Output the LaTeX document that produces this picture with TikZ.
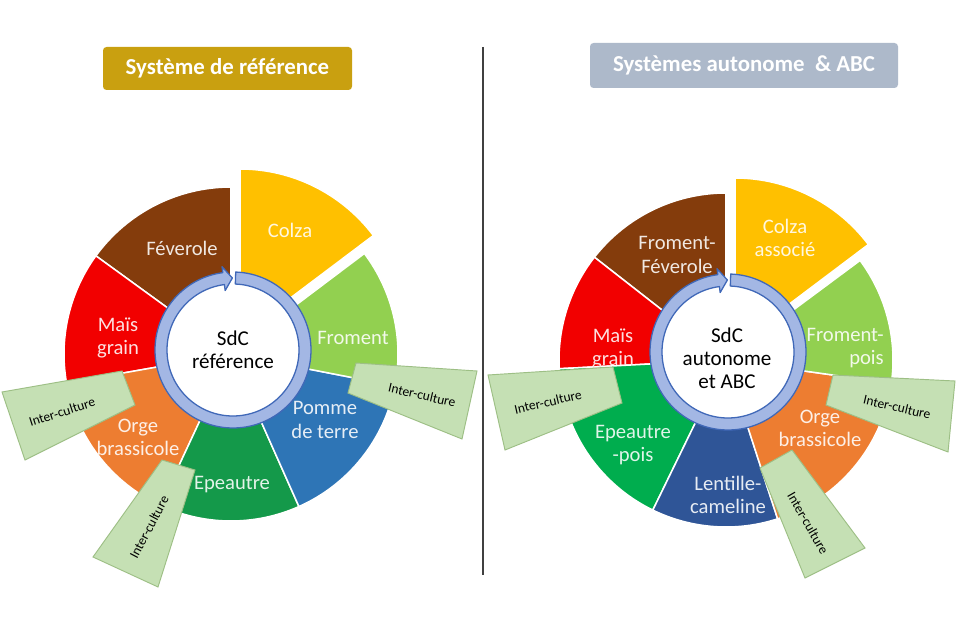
\documentclass[tikz,border=0pt]{standalone}
\usepackage{fontspec}
\setmainfont{Carlito}
\definecolor{brun}{HTML}{843C0C}
\definecolor{rouge}{HTML}{F20000}
\definecolor{orange}{HTML}{ED7D31}
\definecolor{vertfonce}{HTML}{14994A}
\definecolor{vertvif}{HTML}{00AD4E}
\definecolor{bleu}{HTML}{2E75B6}
\definecolor{bleufonce}{HTML}{2F5597}
\definecolor{vertclair}{HTML}{92D050}
\definecolor{jaune}{HTML}{FFC000}
\definecolor{interfond}{HTML}{C5E0B4}
\definecolor{interbord}{HTML}{9DBF85}
\definecolor{anneaufond}{HTML}{A3B7E4}
\definecolor{anneaubord}{HTML}{4068B8}
\definecolor{titreor}{HTML}{C9A010}
\definecolor{titregris}{HTML}{ADB9CA}
\begin{document}
\begin{tikzpicture}[x=0.3mm,y=0.3mm,
    secteur/.style={draw=white,line width=1.3pt},
    etiq/.style={text=white!88!#1,align=center,inner sep=0pt,
        font=\fontsize{17.6}{19.8}\selectfont},
    centre/.style={text=black,align=center,inner sep=0pt,
        font=\fontsize{18}{19.8}\selectfont},
    anneau/.style={fill=anneaufond,draw=anneaubord,line width=1.1pt,line join=round},
    interbox/.style={fill=interfond,draw=interbord,line width=.8pt},
    ictext/.style={text=black,inner sep=0pt,font=\fontsize{11.5}{13}\selectfont},
    titre/.style={rounded corners=3pt,text=white,inner sep=0pt,
        font=\bfseries\fontsize{19.5}{22}\selectfont},
    separateur/.style={draw=black!75,line width=.9pt}]
    \useasboundingbox (0,0) rectangle (960,640);
    \fill[white] (0,0) rectangle (960,640);
    \node[titre,fill=titreor,minimum width=74.7mm,minimum height=12.9mm]
        (titre-ref) at (227.5,571.5) {Système de référence};
    \node[titre,fill=titregris,minimum width=92.4mm,minimum height=13.5mm]
        (titre-abc) at (744,574.5) {Systèmes autonome\ \ \& ABC};
    \draw[separateur] (483,593) -- (483,65);
    \begin{scope}[shift={(231,286)}]
        \foreach \a/\b/\c/\dx/\dy in {90/144/brun/0/0,144/190/rouge/0/0,
            190/245/orange/0/0,245/294/vertfonce/0/0,294/349/bleu/0/0,
            349/397/vertclair/0/0,37/90/jaune/9/18} {
            \filldraw[secteur,fill=\c,shift={(\dx,\dy)}] (\a:60) -- (\a:167)
                arc[start angle=\a,end angle=\b,radius=167] -- (\b:60)
                arc[start angle=\b,end angle=\a,radius=60] -- cycle;
        }
    \end{scope}
    \begin{scope}[shift={(726,280)}]
        \foreach \a/\b/\c/\dx/\dy in {90/142/brun/0/0,142/183/rouge/0/0,
            183/244/vertvif/0/0,244/288/bleufonce/0/0,288/352/orange/0/0,
            352/396.6/vertclair/0/0,37/90/jaune/9/15} {
            \filldraw[secteur,fill=\c,shift={(\dx,\dy)}] (\a:60) -- (\a:167)
                arc[start angle=\a,end angle=\b,radius=167] -- (\b:60)
                arc[start angle=\b,end angle=\a,radius=60] -- cycle;
        }
    \end{scope}
    \foreach \cx/\cy in {233/290,728/288} {
        \begin{scope}[shift={(\cx,\cy)}]
            \fill[white] (0,0) circle[radius=72];
            \filldraw[anneau] (88:78) arc[start angle=88,end angle=-262.5,radius=78]
                -- (97.5:84) -- (90.5:72) -- (97.5:60) -- (97.5:66)
                arc[start angle=97.5,end angle=448,radius=66] -- cycle;
        \end{scope}
    }
    \node[centre] (sdc-ref) at (233,290) {SdC\\référence};
    \node[centre] (sdc-abc) at (727,282) {SdC\\autonome\\et ABC};
    \node[etiq=jaune] (colza-ref) at (290,410) {Colza};
    \node[etiq=brun] (feverole-ref) at (182,392) {Féverole};
    \node[etiq=rouge] (mais-ref) at (118,302) {Maïs\\grain};
    \node[etiq=vertclair] (froment-ref) at (353,302) {Froment};
    \node[etiq=bleu] (pomme-ref) at (325,220) {Pomme\\de terre};
    \node[etiq=orange] (orge-ref) at (138,203) {Orge\\brassicole};
    \node[etiq=vertfonce] (epeautre-ref) at (232,155) {Epeautre};
    \node[etiq=jaune] (colza-abc) at (785,402) {Colza\\associé};
    \node[etiq=brun] (feverole-abc) at (677,385) {Froment-\\Féverole};
    \node[etiq=rouge] (mais-abc) at (613,291) {Maïs\\grain};
    \node[etiq=vertclair,align=right,anchor=east] (froment-abc) at (884,292) {Froment-\\pois};
    \node[etiq=orange] (orge-abc) at (820,212) {Orge\\brassicole};
    \node[etiq=bleufonce] (lentille-abc) at (728,145) {Lentille-\\cameline};
    \node[etiq=vertvif] (epeautre-abc) at (633,195) {Epeautre\\-pois};
    \filldraw[interbox] (2,248) -- (122,269) -- (135,235) -- (25,180) -- cycle;
    \node[ictext,rotate=18] (ic-ref-1) at (62,228) {Inter-culture};
    \filldraw[interbox] (356,277) -- (477,269) -- (462,201) -- (348,247) -- cycle;
    \node[ictext,rotate=-13] (ic-ref-2) at (422,245) {Inter-culture};
    \filldraw[interbox] (162,180) -- (195,170) -- (158,53) -- (93,83) -- cycle;
    \node[ictext,rotate=62] (ic-ref-3) at (149,113) {Inter-culture};
    \filldraw[interbox] (488,265) -- (613,273) -- (622,237) -- (505,190) -- cycle;
    \node[ictext,rotate=13] (ic-abc-1) at (548,238) {Inter-culture};
    \filldraw[interbox] (833,265) -- (955,259) -- (948,188) -- (826,235) -- cycle;
    \node[ictext,rotate=-13] (ic-abc-2) at (897,233) {Inter-culture};
    \filldraw[interbox] (760,172) -- (792,190) -- (865,92) -- (805,62) -- cycle;
    \node[ictext,rotate=-60] (ic-abc-3) at (808,117) {Inter-culture};
\end{tikzpicture}
\end{document}
